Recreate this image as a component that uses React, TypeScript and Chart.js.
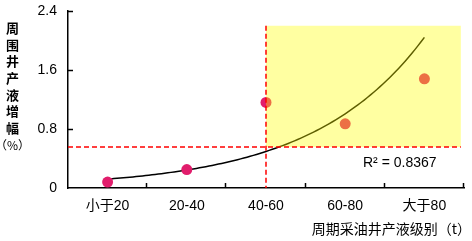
import React, { useEffect, useRef } from 'react';
import { Chart, registerables } from 'chart.js';

Chart.register(...registerables);

const categories = ['小于20', '20-40', '40-60', '60-80', '大于80'];
const liquidIncrease = [0.08, 0.25, 1.16, 0.87, 1.48];
const yTickValues = [0, 0.8, 1.6, 2.4];
const yTickLabels = ['0', '0.8', '1.6', '2.4'];
const thresholdValue = 0.556;
const thresholdCategory = '40-60';
const highlightTop = 2.2;
const highlightEnd = 4.46;
const rSquaredLabel = 'R² = 0.8367';
const yTitleChars = ['周', '围', '井', '产', '液', '增', '幅'];
const yTitleUnit = '（%）';
const xTitle = '周期采油井产液级别（t）';

const LATIN = '"Liberation Sans", Arial, "Noto Sans CJK SC", sans-serif';
const CJK = '"Noto Sans CJK SC", "Liberation Sans", sans-serif';

// Exponential trendline y = a * exp(b * x), x = 1..n (least squares on ln y)
function expFit(vals: number[]) {
  const n = vals.length;
  const xs = vals.map((_, i) => i + 1);
  const ls = vals.map((v) => Math.log(v));
  const mx = xs.reduce((s, v) => s + v, 0) / n;
  const ml = ls.reduce((s, v) => s + v, 0) / n;
  let sxy = 0, sxx = 0;
  for (let i = 0; i < n; i++) {
    sxy += (xs[i] - mx) * (ls[i] - ml);
    sxx += (xs[i] - mx) * (xs[i] - mx);
  }
  const b = sxy / sxx;
  const a = Math.exp(ml - b * mx);
  return { a, b };
}

const overlayPlugin = {
  id: 'overlay',
  beforeDatasetsDraw(chart: any) {
    const { ctx, scales } = chart;
    const x = scales.x, y = scales.y;
    const p0 = x.getPixelForValue(0);
    const step = x.getPixelForValue(1) - p0;
    const { a, b } = expFit(liquidIncrease);
    const n = liquidIncrease.length;
    ctx.save();
    ctx.beginPath();
    const N = 100;
    for (let k = 0; k <= N; k++) {
      const t = (k / N) * (n - 1);
      const v = a * Math.exp(b * (t + 1));
      const px = p0 + t * step;
      const py = y.getPixelForValue(v);
      if (k === 0) ctx.moveTo(px, py);
      else ctx.lineTo(px, py);
    }
    ctx.strokeStyle = '#000';
    ctx.lineWidth = 1.5;
    ctx.stroke();
    ctx.restore();
  },
  afterDatasetsDraw(chart: any) {
    const { ctx, scales } = chart;
    const x = scales.x, y = scales.y;
    const p0 = x.getPixelForValue(0);
    const step = x.getPixelForValue(1) - p0;
    const vIdx = categories.indexOf(thresholdCategory);
    const vx = p0 + vIdx * step;
    const bx2 = p0 + highlightEnd * step;
    const yTop = y.getPixelForValue(highlightTop);
    const yTh = y.getPixelForValue(thresholdValue);
    const y0 = y.getPixelForValue(0);
    ctx.save();
    ctx.fillStyle = 'rgba(255,255,0,0.37)';
    ctx.fillRect(vx, yTop, bx2 - vx, yTh - yTop);
    ctx.strokeStyle = '#ff0000';
    ctx.lineWidth = 1.5;
    ctx.setLineDash([5, 3]);
    ctx.beginPath();
    ctx.moveTo(chart.chartArea.left, yTh);
    ctx.lineTo(bx2, yTh);
    ctx.stroke();
    ctx.beginPath();
    ctx.moveTo(vx, yTop);
    ctx.lineTo(vx, y0);
    ctx.stroke();
    ctx.restore();
  },
  afterDraw(chart: any) {
    const { ctx, scales, chartArea } = chart;
    const x = scales.x, y = scales.y;
    const p0 = x.getPixelForValue(0);
    const step = x.getPixelForValue(1) - p0;
    const y0 = y.getPixelForValue(0);
    ctx.save();
    ctx.strokeStyle = '#000';
    ctx.lineWidth = 1.5;
    // inward ticks on x axis at category boundaries
    for (let k = 1; k <= categories.length; k++) {
      const px = Math.round(p0 - step / 2 + k * step) - 0.5;
      ctx.beginPath();
      ctx.moveTo(px, y0);
      ctx.lineTo(px, y0 - 5);
      ctx.stroke();
    }
    // inward ticks on y axis
    for (let i = 1; i < yTickValues.length; i++) {
      const py = Math.round(y.getPixelForValue(yTickValues[i])) + 0.5;
      ctx.beginPath();
      ctx.moveTo(chartArea.left, py);
      ctx.lineTo(chartArea.left + 5, py);
      ctx.stroke();
    }
    // R² label
    ctx.fillStyle = '#000';
    ctx.font = '14px ' + LATIN;
    ctx.textAlign = 'left';
    ctx.textBaseline = 'middle';
    ctx.fillText(rSquaredLabel, 363, 163);
    // y title (stacked characters)
    ctx.font = 'bold 13px ' + CJK;
    ctx.textAlign = 'center';
    yTitleChars.forEach((c, i) => {
      ctx.fillText(c, 12.5, 28.3 + i * 16.6);
    });
    ctx.font = '12px ' + CJK;
    ctx.fillText(yTitleUnit, 12.5, 28.3 + yTitleChars.length * 16.6 + 1);
    // x title
    ctx.font = '14px ' + CJK;
    ctx.textAlign = 'right';
    ctx.fillText(xTitle, 471, 229);
    ctx.restore();
  },
};

export default function App() {
  const ref = useRef<HTMLCanvasElement | null>(null);
  useEffect(() => {
    if (!ref.current) return;
    const chart = new Chart(ref.current, {
      type: 'line',
      data: {
        labels: categories,
        datasets: [
          {
            data: liquidIncrease,
            showLine: false,
            pointRadius: 5.5,
            pointHoverRadius: 5.5,
            pointBackgroundColor: '#e11d6c',
            pointBorderWidth: 0,
            borderColor: '#e11d6c',
          },
        ],
      },
      options: {
        responsive: false,
        animation: false,
        events: [],
        layout: { padding: { left: 0, top: 0, right: 8, bottom: 0 } },
        plugins: { legend: { display: false }, tooltip: { enabled: false } },
        scales: {
          x: {
            type: 'category',
            offset: true,
            grid: { display: false, drawTicks: false },
            border: { display: true, color: '#000', width: 1.5 },
            ticks: {
              color: '#000',
              padding: 10,
              font: { size: 14, family: LATIN },
              maxRotation: 0,
              autoSkip: false,
            },
            afterFit: (s: any) => {
              s.height = 53;
              s.paddingTop = 0;
              s.paddingBottom = 0;
            },
          },
          y: {
            min: 0,
            max: 2.4,
            grid: { display: false, drawTicks: false },
            border: { display: true, color: '#000', width: 1.5 },
            afterBuildTicks: (s: any) => {
              s.ticks = yTickValues.map((v) => ({ value: v }));
            },
            ticks: {
              color: '#000',
              padding: 11,
              font: { size: 14, family: LATIN },
              callback: (v: any) => {
                const i = yTickValues.indexOf(Number(v));
                return i >= 0 ? yTickLabels[i] : '';
              },
            },
            afterFit: (s: any) => {
              s.width = 68;
              s.paddingTop = 11;
              s.paddingBottom = 0;
            },
          },
        },
      },
      plugins: [overlayPlugin],
    });
    return () => chart.destroy();
  }, []);
  return (
    <div style={{ position: 'fixed', left: 0, top: 0, width: 472, height: 241, background: '#fff' }}>
      <canvas ref={ref} width={472} height={241} style={{ display: 'block' }} />
    </div>
  );
}
